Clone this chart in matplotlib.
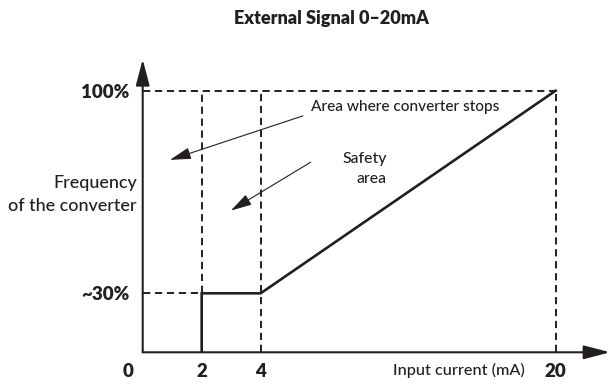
import numpy as np
import matplotlib
matplotlib.use("Agg")
import matplotlib.pyplot as plt
from matplotlib.transforms import ScaledTranslation

plt.rcParams["font.family"] = ["Lato", "DejaVu Sans"]
plt.rcParams["lines.scale_dashes"] = False

INK = "#231f20"
TEXT_WEIGHT = 500

# Input current (mA) and converter frequency (%)
current_ticks = [0, 2, 4, 20]
current_labels = ["0", "2", "4", "20"]
freq_ticks = [30, 100]
freq_labels = ["~30%", "100%"]
stop_current = 2
safety_current = 4
max_current = 20
min_freq = 30
max_freq = 100

# Operating curve: off below 2 mA, held at ~30% up to 4 mA, then linear to 100%
curve_x = [2, 2, 4, 20]
curve_y = [0, 30, 30, 100]

# Schematic (piecewise linear) axes so the low-current region is readable
x_knots = [0, 2, 4, 20, 60]
x_warp = [0, 2, 4, 14, 39]
y_knots = [0, 30, 100, 300]
y_warp = [0, 59, 261.6, 840.4]


def fwd_x(v):
    return np.interp(v, x_knots, x_warp)


def inv_x(v):
    return np.interp(v, x_warp, x_knots)


def fwd_y(v):
    return np.interp(v, y_knots, y_warp)


def inv_y(v):
    return np.interp(v, y_warp, y_knots)


W, H = 610, 385
fig = plt.figure(figsize=(W / 100, H / 100), dpi=100)
ax_left, ax_bottom = 142.7, 385 - 352.3
ax = fig.add_axes([ax_left / W, ax_bottom / H, (W - ax_left) / W, 293 / H])
ax.set_xscale("function", functions=(fwd_x, inv_x))
ax.set_yscale("function", functions=(fwd_y, inv_y))
ax.set_xlim(0, 22.95)
ax.set_ylim(0, 110.85)
for s in ax.spines.values():
    s.set_visible(False)
ax.patch.set_visible(False)

# Axes with arrowheads
axis_arrow = dict(arrowstyle="-|>,head_length=1.6,head_width=0.42",
                  lw=1.5, color=INK, shrinkA=0, shrinkB=0, mutation_scale=10)
ax.annotate("", xy=(0, 1), xytext=(0, 0), xycoords="axes fraction",
            arrowprops=axis_arrow)
ax.annotate("", xy=(1, 0), xytext=(0, 0), xycoords="axes fraction",
            arrowprops=axis_arrow)

# Dashed guide lines
dash = dict(color=INK, lw=1.4, linestyle=(0, (5.2, 3.4)), solid_capstyle="butt")
ax.plot([0, max_current], [max_freq, max_freq], **dash)
ax.plot([0, stop_current], [min_freq, min_freq], **dash)
ax.plot([stop_current, stop_current], [min_freq, max_freq], **dash)
ax.plot([safety_current, safety_current], [0, max_freq], **dash)
ax.plot([max_current, max_current], [0, max_freq], **dash)

# Operating curve
ax.plot(curve_x, curve_y, color=INK, lw=1.9, solid_joinstyle="miter")

# Ticks
ax.set_xticks(current_ticks)
ax.set_xticklabels(current_labels, fontsize=13.5, fontweight="heavy", color=INK)
ax.set_yticks(freq_ticks)
ax.set_yticklabels(freq_labels, fontsize=13.5, fontweight="heavy", color=INK)
ax.tick_params(axis="both", length=0)
ax.tick_params(axis="x", pad=8)
ax.tick_params(axis="y", pad=9.5)
zero_label = ax.xaxis.get_major_ticks()[0].label1
zero_label.set_transform(zero_label.get_transform()
                         + ScaledTranslation(-0.145, 0, fig.dpi_scale_trans))

# Axis titles
ax.text(0.677, -0.063, "Input current (mA)", transform=ax.transAxes,
        ha="center", va="center", fontsize=11.7, color=INK,
        fontweight=TEXT_WEIGHT)
ax.text(-0.013, 0.538, "Frequency\nof the converter", transform=ax.transAxes,
        ha="right", va="center", multialignment="right", fontsize=12.9,
        color=INK, linespacing=1.56, fontweight=TEXT_WEIGHT)

# Region annotations
thin_arrow = dict(arrowstyle="-|>,head_length=1.3,head_width=0.36",
                  lw=0.8, color=INK, shrinkA=0, shrinkB=0, mutation_scale=10)
ax.annotate("", xy=(0.925, 76.1), xytext=(6.29, 91.3), arrowprops=thin_arrow)
ax.annotate("", xy=(2.99, 58.6), xytext=(6.71, 75.3), arrowprops=thin_arrow)
ax.text(6.73, 94.5, "Area where converter stops", ha="left", va="center",
        fontsize=11.1, color=INK, fontweight=TEXT_WEIGHT)
ax.text(10.85, 72.9, "Safety\narea", ha="right", va="center",
        multialignment="right", fontsize=11.3, color=INK, linespacing=1.58,
        fontweight=TEXT_WEIGHT)

fig.text(331.7 / W, 1 - 18.3 / H, "External Signal 0–20mA", ha="center",
         va="center", fontsize=13.0, fontweight="heavy", color=INK)

fig.savefig("out.png", dpi=100)
